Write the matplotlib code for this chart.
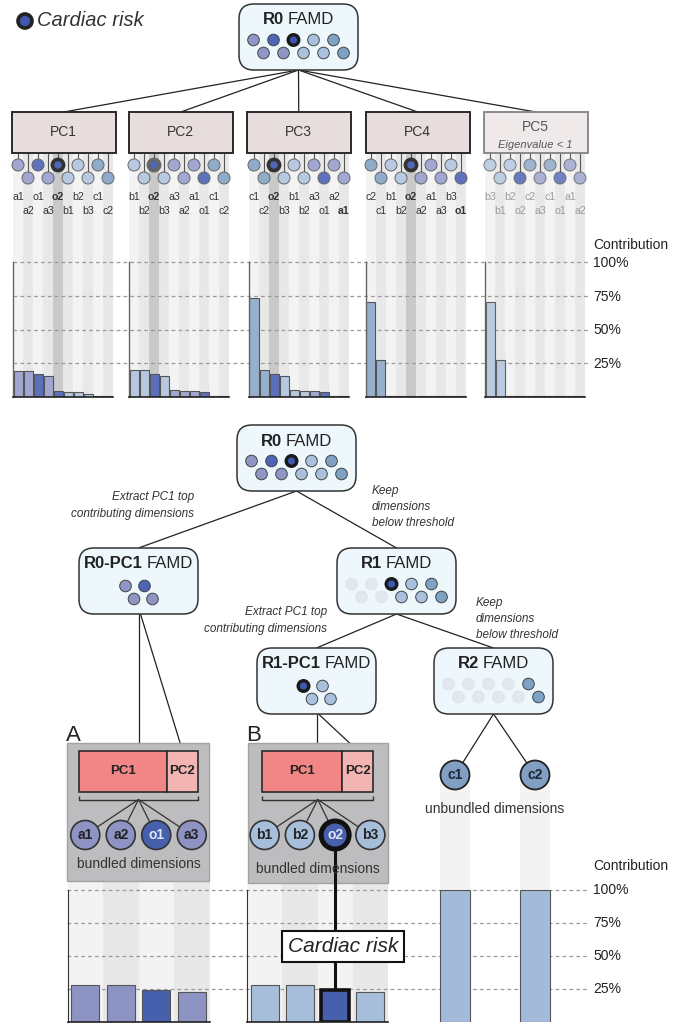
import matplotlib
matplotlib.use('Agg')
import matplotlib.pyplot as plt
from matplotlib.patches import Circle, Rectangle, FancyBboxPatch

# ---------------- data ----------------
pc_names = ['PC1', 'PC2', 'PC3', 'PC4', 'PC5']
pc_orders = [
    ['a1', 'a2', 'o1', 'a3', 'o2', 'b1', 'b2', 'b3', 'c1', 'c2'],
    ['b1', 'b2', 'o2', 'b3', 'a3', 'a2', 'a1', 'o1', 'c1', 'c2'],
    ['c1', 'c2', 'o2', 'b3', 'b1', 'b2', 'a3', 'o1', 'a2', 'a1'],
    ['c2', 'c1', 'b1', 'b2', 'o2', 'a2', 'a1', 'a3', 'b3', 'o1'],
    ['b3', 'b1', 'b2', 'o2', 'c2', 'a3', 'c1', 'o1', 'a1', 'a2'],
]
pc1_values = [19.6, 19.3, 16.8, 15.8, 4.4, 4.0, 4.0, 2.2, 0.5, 0.5]
pc2_values = [20.3, 20.3, 17.0, 15.6, 5.0, 4.4, 4.4, 3.7, 0.5, 0.5]
pc3_values = [73.6, 20.3, 17.0, 15.8, 5.0, 4.2, 4.2, 3.7, 0.5, 0.5]
pc4_values = [70.7, 27.7, 0.6, 0.6, 0.6, 0.6, 0.6, 0.6, 0.6, 0.6]
pc5_values = [70.7, 27.7, 0.6, 0.6, 0.6, 0.6, 0.6, 0.6, 0.6, 0.6]
pc_values = [pc1_values, pc2_values, pc3_values, pc4_values, pc5_values]

bundle_a_dims = ['a1', 'a2', 'o1', 'a3']
bundle_a_values = [28, 28, 24.5, 22.5]
bundle_b_dims = ['b1', 'b2', 'o2', 'b3']
bundle_b_values = [28, 28, 24.5, 22.5]
unbundled_dims = ['c1', 'c2']
unbundled_values = [100, 100]
tick_values = [25, 50, 75, 100]
tick_labels = ['25%', '50%', '75%', '100%']

# ---------------- style ----------------
plt.rcParams['font.family'] = ['Liberation Sans', 'DejaVu Sans']
W, H = 688, 1028
fig = plt.figure(figsize=(6.88, 10.28), dpi=100)
ax = fig.add_axes([0, 0, 1, 1])
ax.set_xlim(0, W)
ax.set_ylim(H, 0)
ax.axis('off')
renderer = fig.canvas.get_renderer()

circ_col = {'a': '#a1a7d2', 'o1': '#5d71bd', 'o2': '#5266b6', 'b': '#b7cae2', 'c': '#8fabca'}
bar_col = {'a': '#a2a7d1', 'o1': '#5b6fbb', 'o2': '#5b6fbb', 'b': '#b5c8e0', 'c': '#95afcc'}
famd_col = {'a': '#8f96c6', 'o1': '#4e64b4', 'o2': '#3f57ad', 'b': '#a9c1dd', 'c': '#7ea2c3',
            'f': '#e3e8ef'}


def ckey(d):
    return d if d.startswith('o') else d[0]


def circle(x, y, r, fc, ec='#555', lw=0.7, z=5, alpha=1):
    ax.add_patch(Circle((x, y), r, fc=fc, ec=ec, lw=lw, zorder=z, alpha=alpha))


def line(xs, ys, c='#222', lw=0.9, z=2, **kw):
    ax.plot(xs, ys, color=c, lw=lw, zorder=z, solid_capstyle='butt', **kw)


def mixed_title(cx, y, bold, reg, fs=12):
    t1 = ax.text(0, y, bold, fontsize=fs, fontweight='bold', color='#222', va='center', ha='left', zorder=8)
    t2 = ax.text(0, y, reg, fontsize=fs, color='#222', va='center', ha='left', zorder=8)
    w1 = t1.get_window_extent(renderer).width
    w2 = t2.get_window_extent(renderer).width
    gap = fs * 0.33
    x0 = cx - (w1 + gap + w2) / 2
    t1.set_x(x0)
    t2.set_x(x0 + w1 + gap)


def famd_box(x, y, bold, reg, layout, cols, w=119, h=66):
    ax.add_patch(FancyBboxPatch((x, y), w, h, boxstyle='round,pad=0,rounding_size=15',
                                fc='#eef7fb', ec='#333', lw=1.1, zorder=4))
    cx = x + w / 2
    mixed_title(cx, y + 16, bold, reg)
    if layout == 5:
        pos = [(-45, 36), (-25, 36), (-5, 36), (15, 36), (35, 36),
               (-35, 49), (-15, 49), (5, 49), (25, 49), (45, 49)]
    else:
        pos = [(-13, 38), (6, 38), (-4.5, 51), (14, 51)]
    for (dx, dy), c in zip(pos, cols):
        if c == 'hl':
            circle(cx + dx, y + dy, 5.3, famd_col['o2'], ec='#1a1a1a', lw=2.4, z=6)
        elif c == 'f':
            circle(cx + dx, y + dy, 5.8, famd_col['f'], ec='#dbe1e9', lw=0.6, z=6)
        else:
            circle(cx + dx, y + dy, 5.8, famd_col[c], ec='#444', lw=0.7, z=6)
    return cx


# ---------------- legend ----------------
circle(25, 21, 7, famd_col['o2'], ec='#222', lw=2.6, z=6)
ax.text(37, 21, 'Cardiac risk', fontsize=14.5, style='italic', color='#333', va='center', ha='left')

# ---------------- top tree ----------------
r0_cols = ['a', 'o1', 'hl', 'b', 'c', 'a', 'a', 'b', 'b', 'c']
r0x = famd_box(239, 4, 'R0', 'FAMD', 5, r0_cols)

box_left = [12, 129, 247, 366, 484]
col_left = [13, 129, 249, 366, 485]
BOX_W = 103.5
BOX_T, BOX_B = 112, 153
TOP_Y100, TOP_Y0 = 262, 397

for i, name in enumerate(pc_names):
    bl = box_left[i]
    faded = (i == 4)
    line([r0x, bl + BOX_W / 2], [70, BOX_T], lw=0.9)
    ax.add_patch(Rectangle((bl, BOX_T), BOX_W, BOX_B - BOX_T,
                           fc='#f0e9e9' if faded else '#e8dddd',
                           ec='#8a8a8a' if faded else '#2a2a2a', lw=1.4, zorder=4))
    if faded:
        ax.text(bl + BOX_W / 2, 127, name, fontsize=10, color='#555', ha='center', va='center', zorder=8)
        ax.text(bl + BOX_W / 2, 145, 'Eigenvalue < 1', fontsize=8, style='italic', color='#555',
                ha='center', va='center', zorder=8)
    else:
        ax.text(bl + BOX_W / 2, 132, name, fontsize=10, color='#333', ha='center', va='center', zorder=8)
    order = pc_orders[i]
    for k, d in enumerate(order):
        x0 = col_left[i] + 10 * k
        cx = x0 + 5
        if d == 'o2' and not faded:
            sc = '#c9c9c9'
        else:
            sc = '#f3f3f3' if k % 2 == 0 else '#e8e8e8'
        ax.add_patch(Rectangle((x0, BOX_B), 10, TOP_Y0 - BOX_B, fc=sc, ec='none', zorder=0))
        cy = 165 if k % 2 == 0 else 178
        line([cx, cx], [BOX_B, cy - 6], c='#555', lw=0.8, z=3)
        if d == 'o2' and not faded:
            circle(cx, cy, 5.6, circ_col['o2'], ec='#666' if i == 1 else '#333', lw=2.6, z=6)
        else:
            circle(cx, cy, 6, circ_col[ckey(d)], ec='#666', lw=0.7, z=5, alpha=0.85 if faded else 1)
        ly = 197 if k % 2 == 0 else 211
        bold = (not faded) and (d == 'o2' or (i == 2 and d == 'a1') or (i == 3 and d == 'o1'))
        ax.text(cx, ly, d, fontsize=7.6, color='#9a9a9a' if faded else '#333',
                fontweight='bold' if bold else 'normal', ha='center', va='center', zorder=8)

# top gridlines and labels
for v, lab in zip(tick_values, tick_labels):
    y = TOP_Y0 - v * (TOP_Y0 - TOP_Y100) / 100
    line([13, 590], [y, y], c='#9a9a9a', lw=0.9, z=1, linestyle=(0, (3, 2.5)))
    ax.text(593, y + 1, lab, fontsize=10, color='#222', ha='left', va='center')
ax.text(593, 245, 'Contribution', fontsize=10, color='#222', ha='left', va='center')

for i in range(5):
    a = fig.add_axes([col_left[i] / W, 1 - TOP_Y0 / H, 100 / W, (TOP_Y0 - TOP_Y100) / H])
    a.set_xlim(-0.5, 9.5)
    a.set_ylim(0, 100)
    cols = [bar_col[ckey(d)] for d in pc_orders[i]]
    a.bar(range(10), pc_values[i], width=0.9, color=cols, edgecolor='#555', linewidth=0.8,
          alpha=0.92 if i == 4 else 1)
    a.patch.set_visible(False)
    for s in ['top', 'right']:
        a.spines[s].set_visible(False)
    a.spines['left'].set_color('#666')
    a.spines['left'].set_linewidth(1.0)
    a.spines['bottom'].set_color('#222')
    a.spines['bottom'].set_linewidth(1.2)
    a.set_xticks([])
    a.set_yticks([])

# ---------------- lower tree ----------------
r0bx = famd_box(237, 425, 'R0', 'FAMD', 5, r0_cols)
rpc_x = famd_box(79, 548, 'R0-PC1', 'FAMD', 4, ['a', 'o1', 'a', 'a'])
r1_x = famd_box(337, 548, 'R1', 'FAMD', 5, ['f', 'f', 'hl', 'b', 'c', 'f', 'f', 'b', 'b', 'c'])
r1pc_x = famd_box(257, 648, 'R1-PC1', 'FAMD', 4, ['hl', 'b', 'b', 'b'])
r2_x = famd_box(434, 648, 'R2', 'FAMD', 5, ['f', 'f', 'f', 'f', 'c', 'f', 'f', 'f', 'f', 'c'])

line([r0bx, rpc_x], [491, 548])
line([r0bx, r1_x], [491, 548])
line([r1_x, r1pc_x], [614, 648])
line([r1_x, r2_x], [614, 648])

ann = dict(fontsize=8.5, style='italic', color='#333', zorder=8, va='center')
ax.text(194, 497, 'Extract PC1 top', ha='right', **ann)
ax.text(194, 514, 'contributing dimensions', ha='right', **ann)
for j, s in enumerate(['Keep', 'dimensions', 'below threshold']):
    ax.text(372, 491 + 16 * j, s, ha='left', **ann)
ax.text(327, 612, 'Extract PC1 top', ha='right', **ann)
ax.text(327, 629, 'contributing dimensions', ha='right', **ann)
for j, s in enumerate(['Keep', 'dimensions', 'below threshold']):
    ax.text(476, 603 + 16 * j, s, ha='left', **ann)

BOT_Y100, BOT_Y0 = 890, 1022
bundles = [
    dict(label='A', x0=67.5, w=142, gx=67, gw=142, gh=138, dims=bundle_a_dims, vals=bundle_a_values,
         src=rpc_x, srcy=614, pc1=(79.3, 88), pc2=(167.3, 30.4), txty=864),
    dict(label='B', x0=247, w=141, gx=247.5, gw=140, gh=140, dims=bundle_b_dims, vals=bundle_b_values,
         src=r1pc_x, srcy=714, pc1=(262.3, 80), pc2=(342.3, 31), txty=869),
]
bund_col = {'a': '#8d94c4', 'o1': '#4760ad', 'o2': '#4760ad', 'b': '#a7bedb', 'c': '#a3bad8'}

for b in bundles:
    cw = b['w'] / 4
    for k in range(4):
        ax.add_patch(Rectangle((b['x0'] + k * cw, 881), cw, BOT_Y0 - 881,
                               fc='#f3f3f3' if k % 2 == 0 else '#e8e8e8', ec='none', zorder=0))
    ax.add_patch(Rectangle((b['gx'], 743), b['gw'], b['gh'], fc='#bdbdc0', ec='#a3a3a3', lw=1, zorder=3))
    ax.text(b['gx'] - 1, 741, b['label'], fontsize=16, color='#222', ha='left', va='baseline', zorder=8)
    p1x, p1w = b['pc1']
    p2x, p2w = b['pc2']
    ax.add_patch(Rectangle((p1x, 750.7), p1w, 41, fc='#f28585', ec='#2a2a2a', lw=1.2, zorder=4))
    ax.add_patch(Rectangle((p2x, 750.7), p2w, 41, fc='#f3b4b4', ec='#2a2a2a', lw=1.2, zorder=4))
    ax.text(p1x + p1w / 2, 771, 'PC1', fontsize=9.5, fontweight='bold', color='#222', ha='center',
            va='center', zorder=8)
    ax.text(p2x + p2w / 2, 771, 'PC2', fontsize=9.5, fontweight='bold', color='#222', ha='center',
            va='center', zorder=8)
    line([b['src'], b['src']], [b['srcy'], 750.7], z=2)
    line([b['src'] + 2, p2x + p2w / 2], [b['srcy'], 750.7], z=2)
    bx0, bx1 = p1x, p2x + p2w
    line([bx0, bx0, bx1, bx1], [796, 799.5, 799.5, 796], c='#333', lw=1.0, z=5)
    bc = (bx0 + bx1) / 2
    for k, d in enumerate(b['dims']):
        cx = b['x0'] + (k + 0.5) * cw
        line([bc, cx], [799.5, 835], c='#333', lw=0.9, z=5)
        if d == 'o2':
            circle(cx, 835, 14, bund_col['o2'], ec='#111', lw=3.6, z=6)
            line([cx, cx], [849, 1000], c='#111', lw=2.2, z=6)
        else:
            circle(cx, 835, 14.5, bund_col[ckey(d)], ec='#333', lw=1.2, z=6)
        tc = '#dfe6f4' if d.startswith('o') else '#222'
        ax.text(cx, 835, d, fontsize=10, fontweight='bold', color=tc, ha='center', va='center', zorder=8)
    ax.text(bc, b['txty'], 'bundled dimensions', fontsize=10, color='#333', ha='center', va='center', zorder=8)

# unbundled
C_X0, C_W = 415, 160
for k, d in enumerate(unbundled_dims):
    cx = C_X0 + (k + 0.5) * C_W / 2
    ax.add_patch(Rectangle((cx - 15, 775), 30, BOT_Y0 - 775, fc='#f3f3f3', ec='none', zorder=0))
    line([r2_x, cx], [714, 775], c='#222', lw=0.9, z=2)
    circle(cx, 775, 14.5, '#809fc3', ec='#222', lw=1.3, z=6)
    ax.text(cx, 775, d, fontsize=10, fontweight='bold', color='#1e2632', ha='center', va='center', zorder=8)
ax.text(495, 809, 'unbundled dimensions', fontsize=10, color='#333', ha='center', va='center', zorder=8)

# cardiac risk box
ax.add_patch(Rectangle((282, 931), 122, 31, fc='white', ec='#111', lw=1.5, zorder=9))
ax.text(343, 947, 'Cardiac risk', fontsize=15, style='italic', color='#222', ha='center', va='center', zorder=10)

# bottom gridlines and labels
for v, lab in zip(tick_values, tick_labels):
    y = BOT_Y0 - v * (BOT_Y0 - BOT_Y100) / 100
    line([67, 588], [y, y], c='#9a9a9a', lw=0.9, z=1, linestyle=(0, (3, 2.5)))
    ax.text(593, y, lab, fontsize=10, color='#222', ha='left', va='center')
ax.text(593, 866, 'Contribution', fontsize=10, color='#222', ha='left', va='center')


def bottom_axes(x0, w, dims, vals, spines=True):
    a = fig.add_axes([x0 / W, 1 - BOT_Y0 / H, w / W, (BOT_Y0 - BOT_Y100) / H])
    n = len(dims)
    a.set_xlim(-0.5, n - 0.5)
    a.set_ylim(0, 100)
    bw = 28 / (w / n) if spines else 30 / (w / n)
    cols = [bund_col[ckey(d)] for d in dims]
    ecs = ['#111' if d == 'o2' else '#555' for d in dims]
    lws = [2.6 if d == 'o2' else 0.8 for d in dims]
    a.bar(range(n), vals, width=bw, color=cols, edgecolor=ecs, linewidth=lws)
    a.patch.set_visible(False)
    for s in ['top', 'right']:
        a.spines[s].set_visible(False)
    if spines:
        a.spines['left'].set_color('#333')
        a.spines['bottom'].set_color('#222')
        a.spines['bottom'].set_linewidth(1.2)
    else:
        a.spines['left'].set_visible(False)
        a.spines['bottom'].set_visible(False)
    a.set_xticks([])
    a.set_yticks([])
    return a


bottom_axes(67.5, 142, bundle_a_dims, bundle_a_values)
bottom_axes(247, 141, bundle_b_dims, bundle_b_values)
bottom_axes(C_X0, C_W, unbundled_dims, unbundled_values, spines=False)

fig.savefig('out.png', dpi=100)
